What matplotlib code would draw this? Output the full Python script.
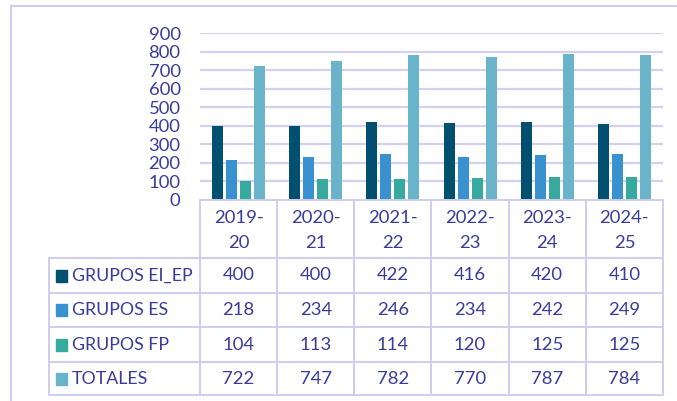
import matplotlib
matplotlib.use("Agg")
import matplotlib.pyplot as plt
from matplotlib.patches import Rectangle
from matplotlib.lines import Line2D

categories = ["2019-\n20", "2020-\n21", "2021-\n22", "2022-\n23", "2023-\n24", "2024-\n25"]
series_names = ["GRUPOS EI_EP", "GRUPOS ES", "GRUPOS FP", "TOTALES"]
grupos_ei_ep = [400, 400, 422, 416, 420, 410]
grupos_es = [218, 234, 246, 234, 242, 249]
grupos_fp = [104, 113, 114, 120, 125, 125]
totales = [722, 747, 782, 770, 787, 784]
series = [grupos_ei_ep, grupos_es, grupos_fp, totales]
colors = ["#02506f", "#3a91d0", "#36aa9e", "#69b4cb"]
yticks = [0, 100, 200, 300, 400, 500, 600, 700, 800, 900]

W, H = 677, 401
txt = "#3b3b9e"
grid = "#d4d1ef"
border = "#cfcdee"
plt.rcParams['font.family'] = ['Lato', 'DejaVu Sans']

fig = plt.figure(figsize=(W / 100, H / 100), dpi=100)

def fy(py):
    return 1 - py / H

def fx(px):
    return px / W

ax_l, ax_r, ax_t, ax_b = 200, 663, 33, 200
ax = fig.add_axes([fx(ax_l), fy(ax_b), fx(ax_r) - fx(ax_l), fy(ax_t) - fy(ax_b)])
n = len(categories)
ax.set_xlim(0, n)
ax.set_ylim(0, 900)
bw = 11 / 77
step = 14 / 77
for i, (vals, c) in enumerate(zip(series, colors)):
    xs = [k + 0.5 + (i - 1.5) * step for k in range(n)]
    ax.bar(xs, vals, width=bw, color=c, zorder=3)
for t in yticks[1:]:
    ax.axhline(t, color=grid, lw=1.6, zorder=1)
for s in ax.spines.values():
    s.set_visible(False)
ax.set_xticks([])
ax.set_yticks(yticks)
ax.set_yticklabels([str(t) for t in yticks], fontsize=13.3, color=txt)
ax.tick_params(axis='y', length=0, pad=14)

# outer frame (left and top visible)
fig.add_artist(Line2D([fx(11), fx(11)], [fy(6), 0], transform=fig.transFigure, color=border, lw=1.5))
fig.add_artist(Line2D([fx(11), 1], [fy(6), fy(6)], transform=fig.transFigure, color=border, lw=1.5))

# data table
col_edges = [200 + (663 - 200) * k / n for k in range(n + 1)]
row_edges = [258, 293, 327, 362, 395]
tl = 49
lw = 1.4

def hline(x0, x1, y):
    fig.add_artist(Line2D([fx(x0), fx(x1)], [fy(y), fy(y)], transform=fig.transFigure, color=border, lw=lw))

def vline(x, y0, y1):
    fig.add_artist(Line2D([fx(x), fx(x)], [fy(y0), fy(y1)], transform=fig.transFigure, color=border, lw=lw))

hline(200, 663, 200)
for y in row_edges:
    hline(tl, 663, y)
for x in col_edges:
    vline(x, 200, 395)
vline(tl, 258, 395)

for k, cat in enumerate(categories):
    cx = (col_edges[k] + col_edges[k + 1]) / 2
    top, bot = cat.split("\n")
    fig.text(fx(cx), fy(218), top, ha='center', va='center', fontsize=13.3, color=txt)
    fig.text(fx(cx), fy(243), bot, ha='center', va='center', fontsize=13.3, color=txt)

for r, (name, vals, c) in enumerate(zip(series_names, series, colors)):
    cy = (row_edges[r] + row_edges[r + 1]) / 2
    fig.add_artist(Rectangle((fx(56), fy(cy + 6)), fx(67) - fx(56), fy(cy - 6) - fy(cy + 6),
                             transform=fig.transFigure, color=c))
    fig.text(fx(72), fy(cy), name, ha='left', va='center', fontsize=12.8, color=txt)
    for k, v in enumerate(vals):
        cx = (col_edges[k] + col_edges[k + 1]) / 2
        fig.text(fx(cx), fy(cy), str(v), ha='center', va='center', fontsize=13.3, color=txt)

fig.savefig("out.png", dpi=100)
